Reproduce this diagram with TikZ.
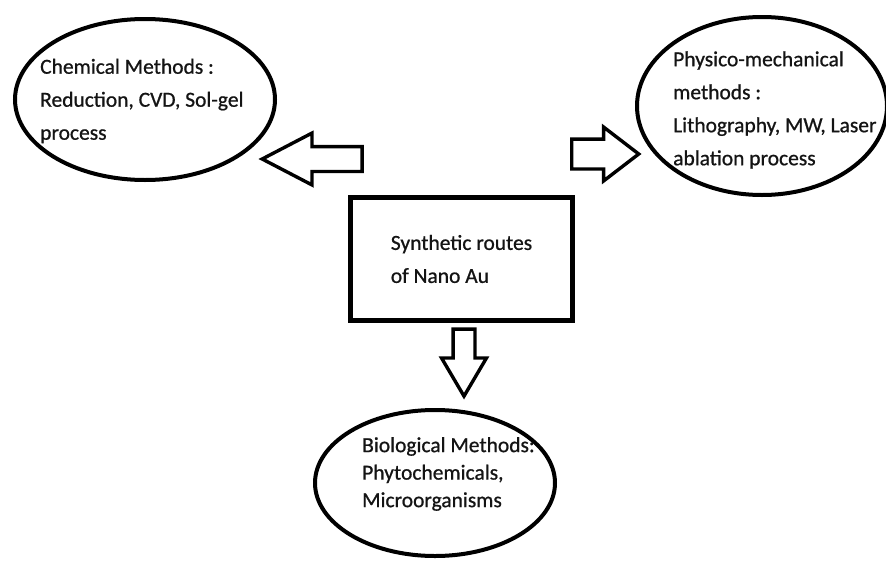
\documentclass[tikz,border=0pt]{standalone}
\usepackage{fontspec}
\setmainfont{Carlito}[FakeBold=0.8]
\usetikzlibrary{shapes.geometric,shapes.arrows}
\begin{document}
\begin{tikzpicture}[
	x=1pt, y=-1pt,
	oval/.style={ellipse, draw, line width=4pt, inner sep=0pt},
	routebox/.style={rectangle, draw, line width=4.5pt, inner sep=0pt, minimum width=222pt, minimum height=123pt, align=left},
	methods/.style={align=left, inner sep=0pt, anchor=west},
	hollow/.style={single arrow, draw, line width=3.4pt, inner xsep=0pt, line join=miter, anchor=tip},
	font=\fontsize{21.5}{33}\selectfont, text=black!92
	]
	\useasboundingbox (0,0) rectangle (886,562);
	\node[routebox] (route) at (461.5,259) {Synthetic routes\\of Nano Au};
	\node[oval, minimum width=260pt, minimum height=161pt] (chem) at (145,99.5) {};
	\node[methods] (chemtext) at (40,101) {Chemical Methods :\\Reduction, CVD, Sol-gel\\process};
	\node[oval, minimum width=250pt, minimum height=178pt] (phys) at (762,106) {};
	\node[methods] (phystext) at (673,110) {Physico-mechanical\\methods :\\Lithography, MW, Laser\\ablation process};
	\node[oval, minimum width=240pt, minimum height=146pt] (bio) at (435,483) {};
	\node[methods, font=\fontsize{21.5}{27.5}\selectfont] (biotext) at (362,474) {Biological Methods:\\Phytochemicals,\\Microorganisms};
	\node[hollow, rotate=180, inner ysep=10.75pt, minimum height=100pt, minimum width=48.5pt, single arrow head extend=13.5pt, single arrow tip angle=55] (tochem) at (258.5,159) {};
	\node[hollow, inner ysep=13.25pt, minimum height=67pt, minimum width=50.5pt, single arrow head extend=12pt, single arrow tip angle=75] (tophys) at (641.5,154) {};
	\node[hollow, rotate=-90, inner ysep=9.25pt, minimum height=67pt, minimum width=41.5pt, single arrow head extend=11.5pt, single arrow tip angle=61] (tobio) at (464,399.5) {};
\end{tikzpicture}
\end{document}
